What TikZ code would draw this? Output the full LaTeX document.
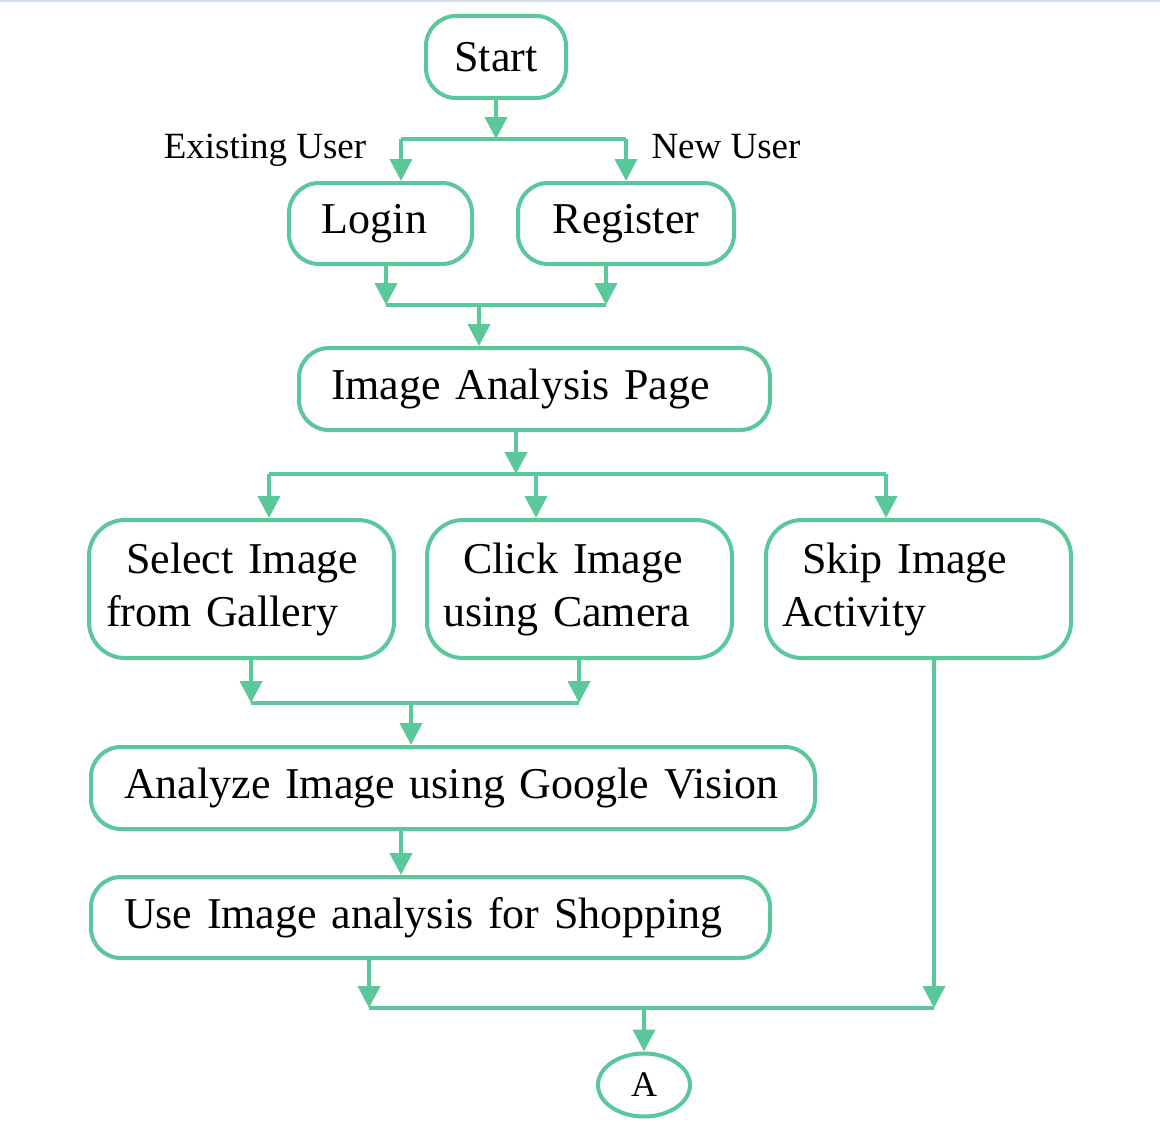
\documentclass[tikz,border=0pt]{standalone}
\usepackage{fontspec}
\setmainfont{Liberation Serif}
\usetikzlibrary{arrows.meta,shapes.geometric}
\definecolor{fc}{RGB}{90,200,155}
\definecolor{topline}{RGB}{208,222,240}
\begin{document}
\begin{tikzpicture}[x=1pt,y=-1pt,
  box/.style={draw=fc, line width=4pt, rounded corners=30pt, inner sep=0pt, font=\fontsize{44}{53}\selectfont},
  tallbox/.style={box, rounded corners=36pt, minimum height=138pt, text width=305pt, align=left},
  arr/.style={draw=fc, line width=4pt, -{Triangle[length=22pt,width=22pt]}},
  ln/.style={draw=fc, line width=4pt},
  lab/.style={font=\fontsize{37}{44}\selectfont, inner sep=0pt}]
\useasboundingbox (0,0) rectangle (1160,1132);
\fill[topline] (0,0) rectangle (1160,2);

% boxes
\node[box, minimum width=140pt, minimum height=82pt] (start) at (496,57) {Start};
\node[box, minimum width=183pt, minimum height=81pt] (login) at (380.5,223.5) {\hspace*{-12pt}Login};
\node[box, minimum width=216pt, minimum height=81pt] (reg) at (626,223.5) {Register};
\node[box, minimum height=82pt, text width=471pt, align=left] (iap) at (534.5,389) {\hspace*{32pt}Image Analysis Page};
\node[tallbox] (sel) at (241.5,589) {\hspace*{37pt}Select Image\\\hspace*{17pt}from Gallery};
\node[tallbox] (click) at (579.5,589) {\hspace*{36pt}Click Image\\\hspace*{16pt}using Camera};
\node[tallbox] (skip) at (918.5,589) {\hspace*{36pt}Skip Image\\\hspace*{16pt}Activity};
\node[box, minimum height=82pt, text width=724pt, align=left] (ana) at (453,788) {\hspace*{33pt}Analyze Image using Google Vision};
\node[box, minimum height=81pt, text width=679pt, align=left] (use) at (430.5,917.5) {\hspace*{33pt}Use Image analysis for Shopping};
\node[draw=fc, line width=4pt, ellipse, minimum width=92pt, minimum height=63pt, inner sep=0pt, font=\fontsize{36}{42}\selectfont] (A) at (644,1085) {A};

% labels
\node[lab] (lexist) at (265,150) {Existing User};
\node[lab] (lnew) at (726,147) {New User};

% junction coordinates
\coordinate (j1) at (496,139);
\coordinate (j1L) at (401,139);
\coordinate (j1R) at (626,139);
\coordinate (j2) at (479,305);
\coordinate (j2L) at (386,305);
\coordinate (j2R) at (606,305);
\coordinate (j3) at (516,474);
\coordinate (j3L) at (269,474);
\coordinate (j3M) at (536,474);
\coordinate (j3R) at (886,474);
\coordinate (j4) at (411,703);
\coordinate (j4L) at (251,703);
\coordinate (j4R) at (579,703);
\coordinate (j5) at (401,850);
\coordinate (j6) at (644,1008);
\coordinate (j6L) at (369,1008);
\coordinate (j6R) at (934,1008);

% connectors
\draw[arr] (start.south) -- (j1);
\draw[ln] (j1L) -- (j1R);
\draw[arr] (j1L) -- (j1L |- login.north);
\draw[arr] (j1R) -- (j1R |- reg.north);

\draw[arr] (j2L |- login.south) -- (j2L);
\draw[arr] (j2R |- reg.south) -- (j2R);
\draw[ln] (j2L) -- (j2R);
\draw[arr] (j2) -- (j2 |- iap.north);

\draw[arr] (j3 |- iap.south) -- (j3);
\draw[ln] (j3L) -- (j3R);
\draw[arr] (j3L) -- (j3L |- sel.north);
\draw[arr] (j3M) -- (j3M |- click.north);
\draw[arr] (j3R) -- (j3R |- skip.north);

\draw[arr] (j4L |- sel.south) -- (j4L);
\draw[arr] (j4R |- click.south) -- (j4R);
\draw[ln] (j4L) -- (j4R);
\draw[arr] (j4) -- (j4 |- ana.north);

\draw[arr] (j5 |- ana.south) -- (j5 |- use.north);

\draw[arr] (j6L |- use.south) -- (j6L);
\draw[arr] (j6R |- skip.south) -- (j6R);
\draw[ln] (j6L) -- (j6R);
\draw[arr] (j6) -- (A.north);
\end{tikzpicture}
\end{document}
